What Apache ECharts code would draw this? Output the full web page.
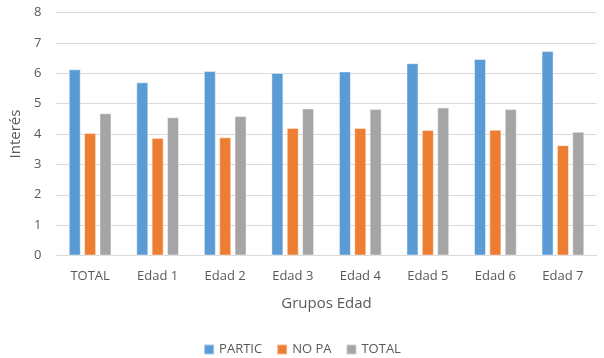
<!DOCTYPE html>
<html><head><meta charset="utf-8">
<script src="https://cdn.jsdelivr.net/npm/echarts@6/dist/echarts.min.js"></script>
<style>html,body{margin:0;padding:0;background:#fff}#c{width:604px;height:358px}</style>
</head><body><div id="c"></div>
<script>
const categories = ['TOTAL','Edad 1','Edad 2','Edad 3','Edad 4','Edad 5','Edad 6','Edad 7'];
const partic = [6.13, 5.70, 6.07, 6.01, 6.06, 6.33, 6.47, 6.73];
const noPa   = [4.03, 3.87, 3.89, 4.20, 4.20, 4.13, 4.14, 3.63];
const total  = [4.68, 4.55, 4.59, 4.84, 4.82, 4.87, 4.82, 4.07];
const seriesNames = ['PARTIC','NO PA','TOTAL'];
const colors = ['#5B9BD5','#ED7D31','#A5A5A5'];
const font = '"Open Sans", "Liberation Sans", sans-serif';
const txt = '#595959';
const chart = echarts.init(document.getElementById('c'));
const mk = (name, data, color) => ({
  name, type:'bar', data, barWidth:12, barGap:'28%',
  itemStyle:{color, borderColor:'rgba(255,255,255,0.45)', borderWidth:1}
});
chart.setOption({
  animation:false,
  grid:{left:52.3, right:7.3, top:12.5, bottom:102.5},
  legend:{bottom:-3, left:'center', itemWidth:10, itemHeight:10, itemGap:14, icon:'rect',
    textStyle:{color:txt, fontFamily:font, fontSize:13}},
  xAxis:{type:'category', data:categories, name:'Grupos Edad', nameLocation:'middle', nameGap:41,
    nameTextStyle:{color:txt, fontFamily:font, fontSize:15},
    axisLine:{lineStyle:{color:'#D9D9D9'}}, axisTick:{show:false},
    axisLabel:{color:txt, fontFamily:font, fontSize:13, margin:14}},
  yAxis:{type:'value', min:0, max:8, interval:1, name:'Interés', nameLocation:'middle', nameGap:33,
    nameTextStyle:{color:txt, fontFamily:font, fontSize:15},
    axisLine:{show:false}, axisTick:{show:false},
    axisLabel:{color:txt, fontFamily:font, fontSize:13, margin:15},
    splitLine:{lineStyle:{color:'#D9D9D9'}}},
  series:[mk(seriesNames[0], partic, colors[0]), mk(seriesNames[1], noPa, colors[1]), mk(seriesNames[2], total, colors[2])]
});
</script></body></html>
